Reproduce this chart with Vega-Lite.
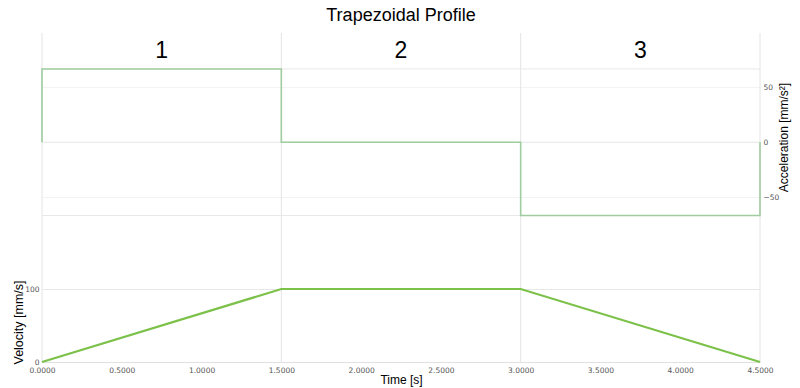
{
  "$schema": "https://vega.github.io/schema/vega-lite/v6.json",
  "width": 718,
  "height": 329,
  "padding": {"left": 42, "top": 33, "right": 40, "bottom": 26},
  "autosize": {"type": "none"},
  "background": "white",
  "title": {"text": "Trapezoidal Profile", "font": "Liberation Sans", "fontSize": 18, "fontWeight": "normal", "color": "#000", "offset": 8, "anchor": "middle"},
  "config": {"view": {"stroke": null}},
  "datasets": {
    "velocity": [
      {"t": 0, "v": 0}, {"t": 1.5, "v": 100}, {"t": 3, "v": 100}, {"t": 4.5, "v": 0}
    ],
    "accel": [
      {"i": 0, "t": 0, "a": 0}, {"i": 1, "t": 0, "a": 66.67}, {"i": 2, "t": 1.5, "a": 66.67}, {"i": 3, "t": 1.5, "a": 0},
      {"i": 4, "t": 3, "a": 0}, {"i": 5, "t": 3, "a": -66.67}, {"i": 6, "t": 4.5, "a": -66.67}, {"i": 7, "t": 4.5, "a": 0}
    ],
    "phases": [{"t": 0.75, "label": "1"}, {"t": 2.25, "label": "2"}, {"t": 3.75, "label": "3"}],
    "vgrid": [{"t": 0}, {"t": 1.5}, {"t": 3}, {"t": 4.5}],
    "hgrid": [{"a": 66.67}, {"a": 0}, {"a": -66.67}]
  },
  "layer": [
    {
      "data": {"name": "vgrid"},
      "mark": {"type": "rule", "color": "#e4e4e4", "strokeWidth": 1},
      "encoding": {"x": {"field": "t", "type": "quantitative", "scale": {"domain": [0, 4.5], "nice": false},
          "axis": {"values": [0, 0.5, 1, 1.5, 2, 2.5, 3, 3.5, 4, 4.5], "format": ".4f", "grid": false, "ticks": false, "domain": true, "domainColor": "#e0e0e0",
            "labelFlush": false, "labelOverlap": false,
            "labelFont": "DejaVu Sans", "labelFontSize": 7.5, "labelColor": "#555", "labelPadding": 4,
            "title": "Time [s]", "titleFont": "Liberation Sans", "titleFontSize": 12, "titleFontWeight": "normal", "titleColor": "#000", "titlePadding": 1}}}
    },
    {
      "data": {"name": "hgrid"},
      "mark": {"type": "rule", "color": "#e8e8e8", "strokeWidth": 1},
      "encoding": {"y": {"field": "a", "type": "quantitative", "scale": {"domain": [-200, 99.4], "nice": false, "zero": false}, "axis": null}}
    },
    {
      "data": {"name": "accel"},
      "mark": {"type": "line", "color": "#9fcd9f", "strokeWidth": 1.6, "interpolate": "linear"},
      "encoding": {
        "x": {"field": "t", "type": "quantitative"},
        "y": {"field": "a", "type": "quantitative", "scale": {"domain": [-200, 99.4], "nice": false, "zero": false},
          "axis": {"orient": "right", "values": [-50, 0, 50], "grid": true, "gridColor": "#f3f3f3", "ticks": false, "domain": false,
            "labelFont": "DejaVu Sans", "labelFontSize": 7.5, "labelColor": "#555", "labelPadding": 3,
            "title": "Acceleration [mm/s²]", "titleFont": "Liberation Sans", "titleFontSize": 12, "titleFontWeight": "normal", "titleColor": "#000",
            "titleAnchor": "middle", "titleAngle": 270, "titleBaseline": "middle", "titleY": 104, "titleX": 23}},
        "order": {"field": "i", "type": "quantitative"}
      }
    },
    {
      "data": {"name": "phases"},
      "mark": {"type": "text", "font": "Liberation Sans", "fontSize": 23, "color": "#000", "baseline": "middle", "dy": 2},
      "encoding": {
        "x": {"field": "t", "type": "quantitative"},
        "y": {"datum": 85, "type": "quantitative", "scale": {"domain": [-200, 99.4], "nice": false, "zero": false}, "axis": null},
        "text": {"field": "label"}
      }
    },
    {
      "data": {"name": "velocity"},
      "mark": {"type": "line", "color": "#7cc14a", "strokeWidth": 2.2},
      "encoding": {
        "x": {"field": "t", "type": "quantitative"},
        "y": {"field": "v", "type": "quantitative", "scale": {"domain": [0, 450.7], "nice": false},
          "axis": {"orient": "left", "values": [0, 100], "grid": true, "gridColor": "#e8e8e8", "ticks": false, "domain": false,
            "labelFont": "DejaVu Sans", "labelFontSize": 7.5, "labelColor": "#555", "labelPadding": 3,
            "title": "Velocity [mm/s]", "titleFont": "Liberation Sans", "titleFontSize": 12.5, "titleFontWeight": "normal", "titleColor": "#000",
            "titleAnchor": "middle", "titleAngle": 270, "titleBaseline": "middle", "titleY": 289, "titleX": -24}}
      }
    }
  ],
  "resolve": {"scale": {"y": "independent"}, "axis": {"y": "independent"}}
}
